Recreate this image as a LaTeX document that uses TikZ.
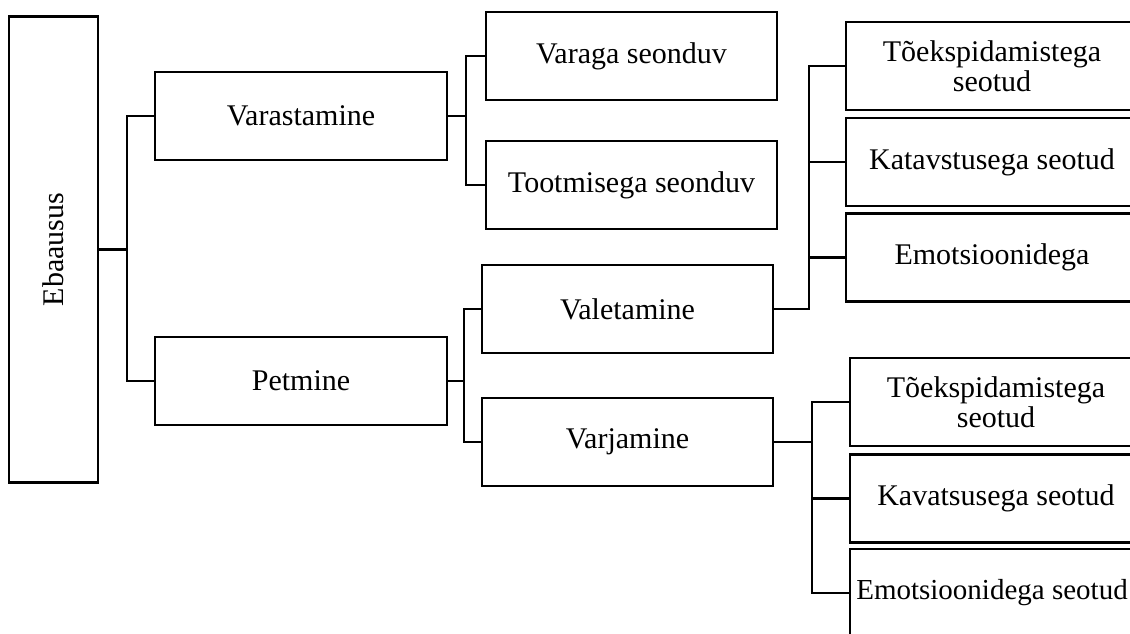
\documentclass[tikz,border=0pt]{standalone}
\usepackage{fontspec}
\setmainfont{Liberation Serif}
\begin{document}
\begin{tikzpicture}[x=1pt,y=-1pt,
  box/.style={draw=black, line width=2.8pt, fill=white, inner sep=0pt,
    minimum width=291pt, minimum height=88pt, align=center,
    font=\fontsize{30}{30}\selectfont},
  link/.style={draw=black, line width=2.8pt}]
\useasboundingbox (0,0) rectangle (1130,633);
\clip (0,0) rectangle (1130,633);

% root
\node[box, minimum width=89pt, minimum height=466pt] (eba) at (53.5,249.5) {\rotatebox{90}{Ebaausus}};

% second level
\node[box, minimum width=292pt] (var) at (301,116) {Varastamine};
\node[box, minimum width=292pt] (pet) at (301,381) {Petmine};

% third level
\node[box] (vs) at (631.5,56) {Varaga seonduv};
\node[box] (ts) at (631.5,185) {Tootmisega seonduv};
\node[box] (val) at (627.5,309) {Valetamine};
\node[box] (vrj) at (627.5,442) {Varjamine};

% fourth level, under Valetamine
\node[box, minimum width=292pt] (a1) at (992,66) {Tõekspidamistega\\seotud};
\node[box, minimum width=292pt] (a2) at (992,162) {Katavstusega seotud};
\node[box, minimum width=292pt] (a3) at (992,257.5) {Emotsioonidega};

% fourth level, under Varjamine
\node[box, minimum width=292pt] (b1) at (996,402) {Tõekspidamistega\\seotud};
\node[box, minimum width=292pt] (b2) at (996,498.5) {Kavatsusega seotud};
\node[box, minimum width=284pt, font=\fontsize{29}{30}\selectfont] (b3) at (992,593) {Emotsioonidega seotud};

% junction points of the elbow connectors
\coordinate (j1) at (127,249.5);
\coordinate (j2) at (466,116);
\coordinate (j3) at (464,381);
\coordinate (j4) at (809,309);
\coordinate (j5) at (812,442);

% connectors
\draw[link] (eba.east) -- (j1);
\draw[link] (var.west) -| (j1) |- (pet.west);

\draw[link] (var.east) -- (j2);
\draw[link] (vs.west) -| (j2) |- (ts.west);

\draw[link] (pet.east) -- (j3);
\draw[link] (val.west) -| (j3) |- (vrj.west);

\draw[link] (a1.west) -| (j4) -- (val.east);
\draw[link] (a2.west) -- (a2.west -| j4);
\draw[link] (a3.west) -- (a3.west -| j4);

\draw[link] (vrj.east) -- (j5);
\draw[link] (b1.west) -| (j5) |- (b3.west);
\draw[link] (b2.west) -- (b2.west -| j5);
\end{tikzpicture}
\end{document}
